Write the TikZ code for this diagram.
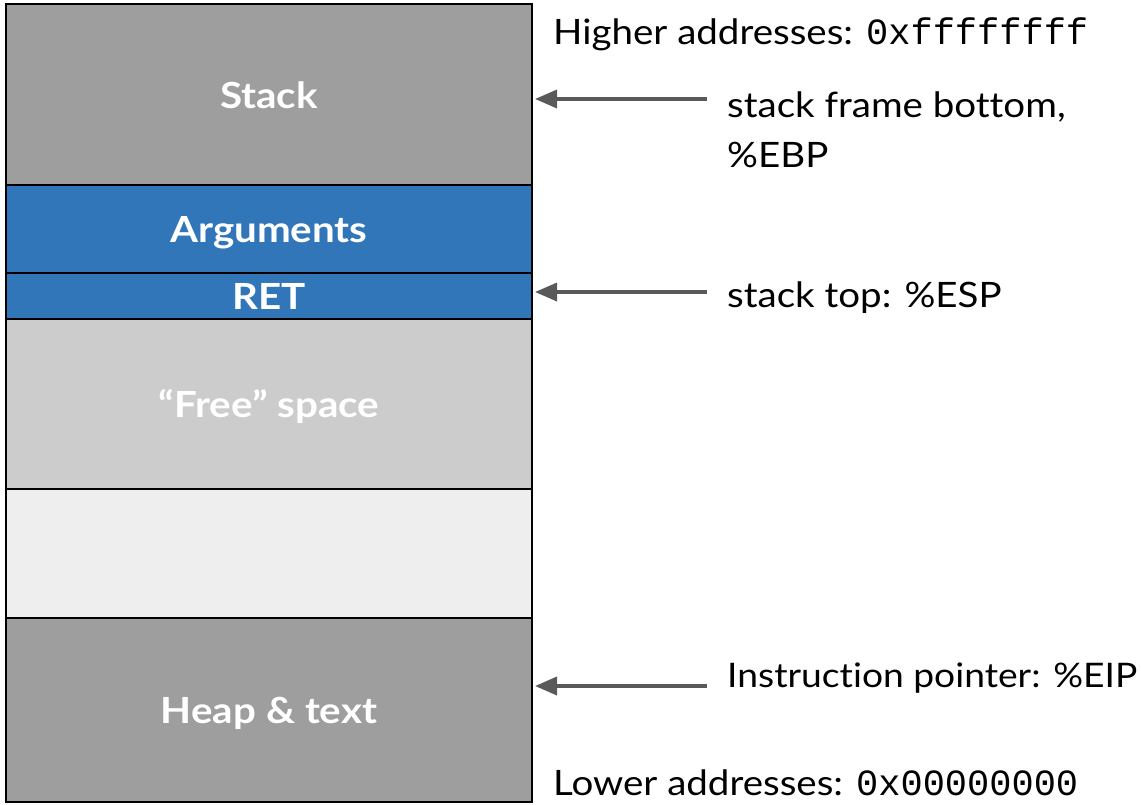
\documentclass[tikz,border=0pt]{standalone}
\usepackage{fontspec}
\setmainfont{Lato}[FakeStretch=1.1,Ligatures=NoCommon]
\newfontfamily\boldlbl{Lato}[FakeStretch=1.12]
\setmonofont{Liberation Mono}
\usetikzlibrary{arrows.meta}
\definecolor{gstack}{HTML}{9E9E9E}
\definecolor{gblue}{HTML}{3176B8}
\definecolor{gfree}{HTML}{CCCCCC}
\definecolor{glight}{HTML}{EEEEEE}
\definecolor{garrow}{HTML}{595959}
\begin{document}
\begin{tikzpicture}[x=1pt,y=-1pt,
  seg/.style={draw=black, line width=2pt, minimum width=526pt, inner sep=0pt, outer sep=0pt,
    text=white, text height=26pt, text depth=0pt, font=\boldlbl\fontsize{36}{40}\selectfont\bfseries},
  lbl/.style={anchor=west, inner sep=0pt, font=\fontsize{35}{50}\selectfont, text=black, align=left},
  arr/.style={draw=garrow, line width=3.5pt, -{Triangle[length=22pt,width=18pt]}}]
\useasboundingbox (0,0) rectangle (1142,804);
\node[seg, fill=gstack, minimum height=182pt] (stack) at (269,95) {Stack};
\node[seg, fill=gblue, minimum height=88pt] (args) at (269,229) {Arguments};
\node[seg, fill=gblue, minimum height=46pt] (ret) at (269,296) {RET};
\node[seg, fill=gfree, minimum height=170pt] (free) at (269,404) {“Free” space};
\node[seg, fill=glight, minimum height=129pt] (empty) at (269,553.5) {};
\node[seg, fill=gstack, minimum height=184pt] (heap) at (269,710) {Heap \& text};
\node[lbl] (hi) at (553,34) {Higher addresses: {\ttfamily\fontsize{37}{40}\selectfont 0xffffffff}};
\node[lbl] (ebp) at (727,130) {stack frame bottom,\\\%EBP};
\node[lbl] (esp) at (727,298) {stack top: \%ESP};
\node[lbl] (eip) at (727,678) {\resizebox{410pt}{!}{Instruction pointer: \%EIP}};
\node[lbl] (lo) at (553,783) {Lower addresses: {\ttfamily\fontsize{37}{40}\selectfont 0x00000000}};
\coordinate (a1) at (707,99);
\coordinate (a2) at (707,292);
\coordinate (a3) at (707,686);
\draw[arr] (a1) -- ([xshift=3pt]stack.east |- a1);
\draw[arr] (a2) -- ([xshift=3pt]ret.east |- a2);
\draw[arr] (a3) -- ([xshift=3pt]heap.east |- a3);
\end{tikzpicture}
\end{document}
